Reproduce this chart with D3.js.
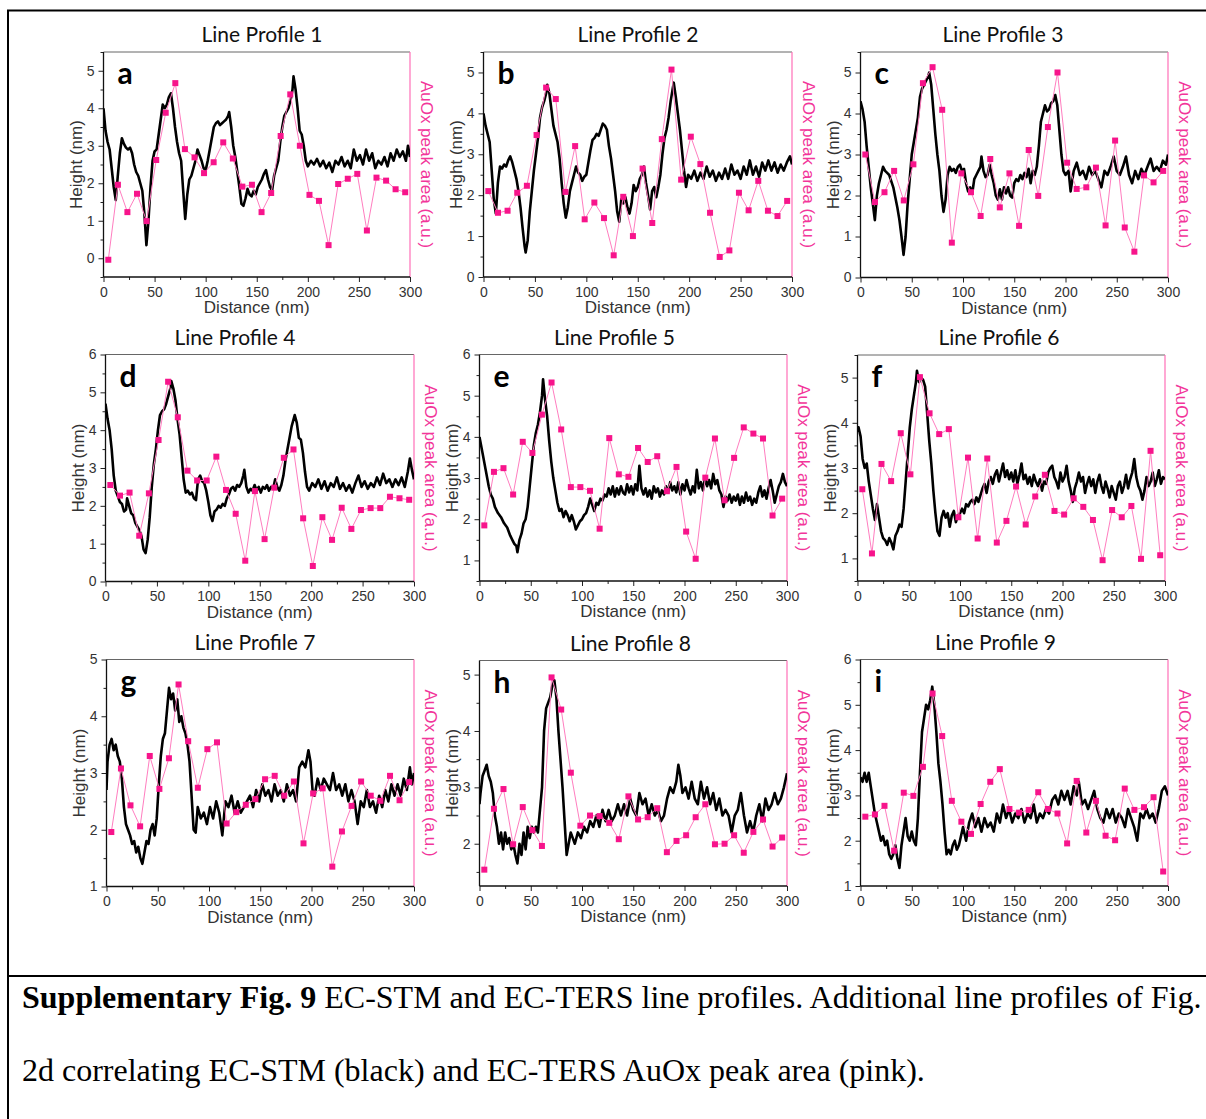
<!DOCTYPE html>
<html>
<head>
<meta charset="utf-8">
<script src="https://cdn.jsdelivr.net/npm/d3@7"></script>
<style>
	body { margin: 0; background: #fff; }
	svg { display: block; }
</style>
</head>
<body>
<div id="fig"></div>
<script>
// ---------- data ----------

var titles = [ "Line Profile 1", "Line Profile 2", "Line Profile 3", "Line Profile 4", "Line Profile 5",
	"Line Profile 6", "Line Profile 7", "Line Profile 8", "Line Profile 9" ];
var letters = [ "a", "b", "c", "d", "e", "f", "g", "h", "i" ];

var distanceTicks = [ 0, 50, 100, 150, 200, 250, 300 ];
var heightTicks = [
	[ 0, 1, 2, 3, 4, 5 ], [ 0, 1, 2, 3, 4, 5 ], [ 0, 1, 2, 3, 4, 5 ],
	[ 0, 1, 2, 3, 4, 5, 6 ], [ 1, 2, 3, 4, 5, 6 ], [ 1, 2, 3, 4, 5 ],
	[ 1, 2, 3, 4, 5 ], [ 2, 3, 4, 5 ], [ 1, 2, 3, 4, 5, 6 ]
];
var heightRanges = [ [ -0.5, 5.5 ], [ 0, 5.5 ], [ 0, 5.5 ], [ 0, 6 ], [ 0.5, 6 ], [ 0.5, 5.5 ], [ 1, 5 ], [ 1.25, 5.25 ], [ 1, 6 ] ];

// positions (nm) of the 32 TERS spectra along each line
var tersX = [ 4.7, 14.1, 23.4, 32.8, 42.2, 51.6, 60.9, 70.3, 79.7, 89.1, 98.4, 107.8, 117.2, 126.6, 135.9, 145.3,
	154.7, 164.1, 173.4, 182.8, 192.2, 201.6, 210.9, 220.3, 229.7, 239.1, 248.4, 257.8, 267.2, 276.6, 285.9, 295.3 ];

// AuOx peak area (pink), one array per line profile
var auox1 = [ -0.04, 1.96, 1.23, 1.72, 0.99, 2.62, 3.88, 4.67, 2.91, 2.69, 2.27, 2.56, 3.09, 2.66, 1.91, 1.96,
	1.23, 1.74, 3.26, 4.37, 3.0, 1.69, 1.53, 0.35, 1.98, 2.12, 2.25, 0.74, 2.15, 2.07, 1.84, 1.76 ];
var auox2 = [ 2.1, 1.57, 1.62, 2.06, 2.23, 3.47, 4.63, 4.35, 2.08, 3.2, 1.41, 1.82, 1.44, 0.53, 1.96, 1.0,
	2.65, 1.32, 3.37, 5.07, 2.38, 3.43, 2.76, 1.57, 0.49, 0.65, 2.06, 1.63, 2.35, 1.62, 1.49, 1.86 ];
var auox3 = [ 3.0, 1.84, 2.08, 2.6, 1.88, 2.76, 4.74, 5.13, 4.09, 0.85, 2.54, 2.08, 1.5, 2.89, 1.71, 2.54,
	1.26, 3.11, 1.99, 3.67, 5.0, 2.8, 2.16, 2.2, 2.68, 1.27, 3.34, 1.22, 0.63, 2.49, 2.32, 2.6 ];
var auox4 = [ 2.55, 2.27, 2.35, 1.21, 2.33, 3.74, 5.28, 4.34, 2.93, 2.67, 2.67, 3.3, 2.42, 1.79, 0.55, 2.39,
	1.12, 2.48, 3.27, 3.49, 1.67, 0.41, 1.7, 1.1, 1.95, 1.39, 1.89, 1.94, 1.94, 2.24, 2.2, 2.16 ];
var auox5 = [ 1.85, 3.15, 3.24, 2.6, 3.88, 3.61, 4.54, 5.32, 4.18, 2.78, 2.78, 2.69, 1.77, 3.97, 3.09, 3.03,
	3.73, 3.39, 3.53, 2.68, 3.27, 1.7, 1.04, 3.01, 3.96, 2.46, 3.49, 4.23, 4.08, 3.96, 2.09, 2.5 ];
var auox6 = [ 2.53, 1.11, 3.09, 2.71, 3.77, 2.86, 5.01, 4.21, 3.75, 3.86, 1.91, 3.23, 1.44, 3.21, 1.35, 1.83,
	2.59, 1.75, 2.37, 2.85, 2.05, 1.97, 2.33, 2.14, 1.85, 0.96, 2.07, 1.91, 2.16, 0.99, 3.38, 1.07 ];
var auox7 = [ 1.96, 3.08, 2.43, 2.06, 3.3, 2.72, 3.26, 4.56, 3.56, 2.74, 3.42, 3.54, 2.11, 2.31, 2.44, 2.54,
	2.89, 2.95, 2.6, 2.85, 1.76, 2.64, 2.73, 1.35, 1.97, 2.42, 2.85, 2.6, 2.51, 2.95, 2.52, 2.84 ];
var auox8 = [ 1.54, 2.62, 2.97, 1.99, 2.65, 2.24, 1.96, 4.95, 4.38, 3.26, 2.32, 2.5, 2.49, 2.37, 2.08, 2.84,
	2.43, 2.47, 2.63, 1.85, 2.05, 2.15, 2.47, 2.7, 1.99, 2.0, 2.15, 1.84, 2.21, 2.43, 1.95, 2.11 ];
var auox9 = [ 2.53, 2.58, 2.77, 1.78, 3.06, 2.99, 3.63, 5.25, 4.31, 2.88, 2.42, 2.15, 2.81, 3.3, 3.58, 2.7,
	2.62, 2.68, 3.07, 2.7, 2.6, 1.94, 3.32, 2.18, 2.88, 2.11, 2.01, 3.15, 2.68, 2.74, 2.96, 1.32 ];

// EC-STM height (black), [distance nm, height nm]
var stm1 = [ [0,4.0],[2,3.4],[4,3.1],[6,2.9],[8,2.4],[10,1.9],[12,1.55],[14,2.2],[16,2.8],[18,3.2],[20,3.05],[22,2.95],[24,2.9],[26,2.95],[28,2.8],[30,2.5],[32,2.3],[34,2.2],[36,2.0],[38,1.8],[40,1.2],[42,0.35],[44,1.0],[46,1.9],[48,2.6],[50,2.85],[52,2.9],[54,3.3],[56,3.7],[58,4.1],[60,4.0],[62,4.1],[64,4.3],[66,4.4],[68,4.0],[70,3.5],[72,3.1],[74,2.8],[76,2.6],[78,1.8],[80,1.05],[82,1.7],[84,2.1],[86,2.2],[88,2.4],[90,2.6],[92,2.9],[94,2.75],[96,2.6],[98,2.4],[100,2.35],[102,2.6],[104,2.9],[106,3.2],[108,3.5],[110,3.6],[112,3.65],[114,3.55],[116,3.6],[118,3.65],[120,3.7],[122,3.8],[123,3.9],[125,3.5],[127,3.0],[129,2.7],[131,2.3],[133,1.9],[135,1.45],[137,1.4],[139,1.6],[141,1.85],[143,1.7],[145,1.65],[147,1.8],[149,1.7],[151,1.9],[153,2.0],[155,2.1],[157,2.25],[159,2.35],[161,2.1],[163,1.9],[165,1.8],[167,2.2],[169,2.4],[171,2.6],[173,3.1],[175,3.5],[177,3.8],[179,3.9],[181,4.0],[183,4.2],[185,4.5],[186,4.85],[188,4.5],[190,4.0],[192,3.4],[194,3.3],[196,3.0],[198,2.6],[200,2.45],[203,2.6],[206,2.5],[209,2.65],[212,2.45],[215,2.6],[218,2.4],[221,2.55],[224,2.3],[227,2.6],[230,2.5],[233,2.7],[236,2.45],[239,2.6],[242,2.4],[245,2.9],[248,2.6],[251,2.75],[254,2.5],[257,2.9],[260,2.6],[263,2.8],[266,2.4],[269,2.6],[272,2.5],[275,2.7],[278,2.45],[281,2.8],[284,2.6],[287,2.9],[290,2.7],[293,2.85],[296,2.6],[298,3.0],[300,2.7] ];
var stm2 = [ [0,4.0],[2,3.7],[4,3.5],[6,3.3],[8,2.6],[10,1.9],[12,1.55],[14,2.3],[16,2.7],[18,2.65],[20,2.75],[22,2.7],[24,2.85],[26,2.95],[28,2.8],[30,2.6],[32,2.4],[34,2.1],[36,1.7],[38,1.2],[40,0.75],[41,0.6],[43,0.9],[45,1.6],[47,2.1],[49,2.6],[51,3.0],[53,3.4],[55,3.9],[57,4.15],[59,4.3],[61,4.5],[62,4.7],[64,4.5],[66,4.1],[68,3.7],[70,3.5],[72,3.3],[74,2.9],[76,2.3],[78,1.8],[80,1.45],[82,1.7],[84,2.1],[86,2.3],[88,2.5],[90,2.7],[92,2.55],[94,2.5],[96,2.35],[98,2.45],[100,2.5],[102,2.8],[104,3.1],[106,3.35],[108,3.4],[110,3.5],[112,3.45],[114,3.6],[116,3.75],[118,3.7],[120,3.6],[122,3.2],[124,2.9],[126,2.5],[128,2.1],[130,1.6],[132,1.35],[134,1.9],[136,1.8],[138,1.95],[140,1.7],[142,1.55],[144,1.8],[146,2.25],[148,2.1],[150,2.2],[152,2.4],[154,2.5],[156,2.7],[158,2.3],[160,2.0],[162,1.65],[164,2.1],[166,2.2],[168,1.95],[170,2.2],[172,2.5],[174,3.0],[176,3.4],[178,3.6],[180,3.9],[182,4.3],[184,4.6],[185,4.75],[187,4.4],[189,4.0],[191,3.6],[193,3.1],[195,2.6],[197,2.2],[199,2.5],[202,2.4],[205,2.6],[208,2.35],[211,2.55],[214,2.4],[217,2.7],[220,2.45],[223,2.6],[226,2.35],[229,2.55],[232,2.4],[235,2.65],[238,2.4],[241,2.75],[244,2.5],[247,2.6],[250,2.4],[253,2.7],[256,2.5],[259,2.85],[262,2.5],[265,2.7],[268,2.45],[271,2.8],[274,2.6],[277,2.85],[280,2.6],[283,2.8],[286,2.55],[289,2.75],[292,2.6],[295,2.8],[298,2.95],[300,2.75] ];
var stm3 = [ [0,4.3],[2,4.1],[4,3.8],[6,3.2],[8,2.7],[10,2.2],[12,1.8],[14,1.4],[16,2.0],[18,2.3],[20,2.5],[22,2.7],[24,2.6],[26,2.55],[28,2.5],[30,2.35],[32,2.2],[34,1.95],[36,1.7],[38,1.4],[40,1.0],[42,0.55],[44,1.0],[46,1.8],[48,2.4],[50,3.0],[52,3.3],[54,3.6],[56,3.9],[58,4.4],[60,4.6],[62,4.7],[64,4.8],[66,4.9],[67,5.0],[69,4.7],[71,4.1],[73,3.5],[75,3.0],[77,2.6],[79,2.0],[81,1.6],[83,1.9],[85,2.5],[87,2.7],[89,2.6],[91,2.65],[93,2.55],[95,2.7],[97,2.75],[99,2.6],[101,2.65],[103,2.3],[105,2.1],[107,2.2],[109,2.05],[111,2.4],[113,2.5],[115,2.6],[117,2.7],[118,2.95],[120,2.6],[122,2.45],[124,2.5],[126,2.75],[128,2.5],[130,2.3],[132,2.0],[134,1.9],[136,2.15],[138,1.9],[140,2.2],[142,2.05],[144,2.2],[146,2.0],[148,1.95],[150,2.3],[152,2.4],[154,2.35],[156,2.5],[158,2.4],[160,2.55],[162,2.45],[164,2.65],[166,2.3],[168,2.6],[170,2.5],[172,2.7],[174,3.2],[176,3.8],[178,4.0],[180,4.2],[182,4.05],[184,4.1],[186,4.25],[188,4.3],[190,4.45],[192,4.2],[194,3.6],[196,3.0],[198,2.6],[200,2.5],[203,2.6],[205,2.1],[208,2.6],[211,2.8],[214,2.5],[217,2.6],[220,2.4],[223,2.7],[226,2.5],[229,2.6],[232,2.4],[235,2.2],[238,2.6],[241,2.5],[244,2.7],[247,2.95],[250,2.6],[253,2.5],[256,2.7],[259,2.95],[262,2.5],[265,2.3],[268,2.6],[271,2.4],[274,2.65],[277,2.5],[280,2.7],[283,2.9],[286,2.6],[289,2.7],[292,2.6],[295,2.85],[298,2.75],[300,3.0] ];
var stm4 = [ [0,4.7],[2,4.3],[4,4.0],[6,3.5],[8,2.8],[10,2.4],[12,2.25],[14,2.1],[16,2.05],[18,1.85],[20,1.9],[21,2.2],[23,2.0],[25,1.8],[27,1.75],[29,1.55],[31,1.45],[33,1.35],[35,1.2],[37,0.85],[39,0.75],[41,1.1],[43,1.7],[45,2.5],[47,3.1],[49,3.5],[51,4.0],[53,4.4],[55,4.5],[57,4.55],[59,4.7],[61,4.9],[63,5.1],[64,5.3],[66,5.1],[68,4.8],[70,4.3],[72,3.9],[74,3.3],[76,2.7],[78,2.35],[80,2.4],[82,2.3],[84,2.35],[86,2.2],[88,2.15],[90,2.7],[92,2.8],[94,2.65],[96,2.6],[98,2.4],[100,2.1],[102,1.75],[104,1.6],[106,1.85],[108,1.9],[110,2.0],[112,1.95],[114,2.05],[116,2.0],[118,2.2],[120,2.3],[122,2.45],[124,2.5],[126,2.4],[128,2.55],[130,2.5],[132,2.6],[134,2.8],[135,2.95],[137,2.5],[139,2.35],[141,2.45],[143,2.4],[145,2.55],[147,2.4],[149,2.5],[151,2.35],[153,2.5],[155,2.45],[157,2.55],[159,2.4],[161,2.5],[163,2.45],[165,2.7],[167,2.5],[169,2.4],[171,2.55],[173,2.8],[175,3.2],[177,3.5],[179,3.8],[181,4.1],[183,4.3],[184,4.4],[186,4.2],[188,3.8],[190,3.75],[192,3.4],[194,2.9],[196,2.5],[198,2.4],[201,2.6],[204,2.5],[207,2.7],[210,2.45],[213,2.65],[216,2.4],[219,2.6],[222,2.5],[225,2.75],[228,2.45],[231,2.6],[234,2.4],[237,2.55],[240,2.35],[243,2.6],[246,2.8],[249,2.5],[252,2.65],[255,2.45],[258,2.6],[261,2.5],[264,2.75],[267,2.55],[270,2.85],[273,2.6],[276,2.7],[279,2.5],[282,2.7],[285,2.55],[288,2.75],[291,2.5],[294,2.9],[296,3.25],[298,2.95],[300,2.7] ];
var stm5 = [ [0,4.0],[3,3.6],[6,3.2],[9,2.8],[11,2.6],[13,2.5],[15,2.3],[18,2.15],[21,2.05],[24,1.9],[27,1.8],[30,1.6],[32,1.5],[34,1.4],[36,1.35],[37,1.2],[39,1.5],[41,1.65],[43,1.9],[45,2.0],[47,2.3],[49,2.8],[51,3.3],[53,3.8],[55,4.1],[57,4.3],[59,4.6],[61,5.0],[62,5.4],[64,4.9],[66,4.5],[68,3.9],[70,3.4],[72,3.0],[74,2.7],[76,2.4],[78,2.2],[80,2.25],[82,2.05],[84,2.2],[86,2.1],[88,1.95],[90,2.1],[92,1.95],[94,1.75],[96,1.85],[98,1.95],[100,2.0],[102,2.1],[104,2.15],[106,2.3],[108,2.5],[110,2.35],[112,2.2],[114,2.4],[116,2.35],[118,2.5],[120,2.45],[122,2.6],[124,2.55],[126,2.75],[128,2.6],[130,2.8],[132,2.55],[134,2.75],[136,2.6],[138,2.8],[140,2.65],[142,2.6],[144,2.85],[146,2.65],[148,2.8],[150,2.6],[152,2.85],[154,2.7],[156,3.3],[158,2.75],[160,2.6],[162,2.75],[164,2.55],[166,2.7],[168,2.5],[170,2.8],[172,2.65],[174,2.75],[176,2.55],[178,2.7],[180,2.6],[182,2.8],[184,2.65],[186,2.9],[188,2.7],[190,2.8],[192,2.65],[194,2.9],[196,2.6],[198,2.85],[200,2.7],[202,2.95],[204,2.75],[206,2.6],[208,2.8],[210,2.65],[212,3.2],[214,2.75],[216,2.9],[218,2.7],[220,3.0],[222,2.8],[224,2.95],[226,2.75],[228,3.1],[230,2.85],[232,2.95],[234,2.7],[236,2.6],[238,2.3],[240,2.55],[242,2.45],[244,2.6],[246,2.4],[248,2.55],[250,2.45],[252,2.6],[254,2.35],[256,2.55],[258,2.4],[260,2.65],[262,2.45],[264,2.55],[266,2.35],[268,2.5],[270,2.4],[272,2.65],[274,2.8],[276,2.55],[278,2.7],[280,2.5],[282,2.75],[284,2.95],[286,2.7],[288,2.4],[290,2.6],[292,2.8],[294,2.9],[296,3.1],[298,2.9],[300,2.8] ];
var stm6 = [ [0,3.8],[1,3.9],[3,3.7],[5,3.2],[7,3.0],[9,3.1],[11,2.7],[13,2.4],[15,2.1],[17,1.85],[19,2.2],[21,1.9],[23,1.6],[25,1.45],[27,1.4],[29,1.3],[31,1.45],[33,1.35],[35,1.2],[37,1.5],[39,1.6],[41,1.75],[43,1.7],[45,2.1],[47,2.7],[49,3.3],[51,3.9],[53,4.3],[55,4.6],[57,4.9],[58,5.15],[60,4.9],[62,5.0],[64,4.95],[66,4.8],[68,4.2],[70,3.6],[72,3.1],[74,2.5],[76,2.0],[78,1.6],[80,1.5],[82,1.9],[84,2.05],[86,1.9],[88,2.0],[90,1.7],[92,1.95],[94,2.05],[96,1.8],[98,1.95],[100,2.0],[102,2.1],[104,2.0],[106,2.2],[108,2.15],[110,2.25],[112,2.3],[114,2.2],[116,2.35],[118,2.25],[120,2.4],[122,2.55],[124,2.65],[126,2.45],[128,2.7],[130,2.8],[132,2.65],[134,2.85],[136,2.95],[138,2.7],[140,2.9],[142,3.1],[144,2.8],[146,2.95],[148,2.75],[150,2.9],[152,2.7],[154,2.95],[156,2.65],[158,2.85],[160,3.1],[162,2.75],[164,2.85],[166,2.65],[168,2.8],[170,2.6],[172,2.85],[174,2.7],[176,2.6],[178,2.75],[180,2.5],[182,2.7],[184,2.65],[186,2.9],[188,3.0],[190,3.05],[192,2.8],[194,2.7],[196,2.55],[198,2.9],[200,2.7],[202,2.8],[204,3.05],[206,2.7],[208,2.5],[210,2.25],[212,2.55],[214,2.7],[216,2.9],[218,2.7],[220,2.8],[222,2.45],[224,2.65],[226,2.8],[228,2.6],[230,2.75],[232,2.45],[234,2.7],[236,2.85],[238,2.6],[240,2.45],[242,2.7],[244,2.55],[246,2.35],[248,2.6],[250,2.45],[252,2.3],[254,2.6],[256,2.7],[258,2.45],[260,2.6],[262,2.85],[264,2.55],[266,2.75],[268,2.9],[270,3.2],[272,2.8],[274,2.6],[276,2.5],[278,2.3],[280,2.5],[282,2.8],[284,2.6],[286,2.7],[288,2.9],[290,2.6],[292,2.75],[294,2.95],[296,2.65],[298,2.8],[300,2.75] ];
var stm7 = [ [0,2.7],[1,3.2],[3,3.5],[5,3.6],[7,3.4],[9,3.5],[11,3.3],[13,3.2],[15,2.9],[17,2.4],[19,2.1],[21,2.0],[23,1.9],[25,1.75],[27,1.8],[29,1.6],[31,1.7],[33,1.5],[35,1.4],[37,1.6],[39,1.8],[41,1.75],[43,2.0],[45,2.1],[47,1.9],[49,2.2],[51,2.8],[53,3.3],[55,3.6],[57,3.7],[59,4.1],[61,4.5],[63,4.3],[65,4.4],[67,4.1],[69,4.3],[71,3.9],[73,4.0],[75,3.8],[77,3.7],[79,3.5],[81,3.2],[83,2.6],[85,2.0],[87,1.95],[89,2.4],[92,2.2],[95,2.3],[98,2.1],[101,2.4],[104,2.2],[107,2.5],[110,2.3],[113,1.9],[116,2.5],[119,2.4],[122,2.6],[125,2.3],[128,2.5],[131,2.3],[134,2.4],[137,2.5],[140,2.6],[143,2.4],[146,2.7],[149,2.5],[152,2.8],[155,2.6],[158,2.7],[161,2.5],[164,2.8],[167,2.6],[170,2.7],[173,2.5],[176,2.8],[179,2.6],[182,2.7],[185,2.5],[188,3.1],[191,3.2],[194,3.1],[197,3.4],[199,3.2],[201,2.7],[203,2.6],[206,2.9],[209,2.7],[212,2.9],[215,2.8],[218,2.7],[221,3.0],[224,2.7],[227,2.8],[230,2.6],[233,2.8],[236,2.5],[239,2.7],[242,2.5],[245,2.1],[248,2.5],[251,2.4],[254,2.7],[257,2.4],[260,2.5],[263,2.3],[266,2.6],[269,2.4],[272,2.7],[275,2.5],[278,2.8],[281,2.6],[284,2.8],[287,2.6],[290,2.9],[293,2.7],[296,3.1],[298,2.8],[300,3.0] ];
var stm8 = [ [0,2.7],[1,2.9],[3,3.2],[5,3.3],[7,3.4],[9,3.2],[11,3.1],[13,2.9],[15,2.5],[17,2.3],[19,2.0],[21,2.2],[23,1.9],[25,2.2],[27,2.0],[29,2.1],[31,1.9],[33,2.0],[35,1.8],[37,1.65],[39,2.0],[41,1.8],[43,2.2],[45,1.9],[47,2.3],[49,2.1],[51,2.3],[53,2.2],[55,2.3],[57,2.2],[59,2.6],[61,3.0],[63,4.0],[65,4.4],[67,4.5],[69,4.6],[71,4.8],[73,4.9],[75,4.6],[77,4.0],[79,3.5],[81,3.0],[83,2.4],[85,1.8],[87,2.0],[89,2.2],[91,2.1],[93,2.0],[96,2.2],[99,2.1],[102,2.3],[105,2.2],[108,2.4],[111,2.3],[114,2.5],[117,2.3],[120,2.6],[123,2.4],[126,2.6],[129,2.4],[132,2.5],[135,2.7],[138,2.5],[141,2.7],[144,2.5],[147,2.8],[150,2.6],[153,2.5],[156,2.9],[159,2.7],[162,2.8],[165,2.5],[168,2.7],[171,2.5],[174,2.6],[177,2.4],[180,2.5],[183,2.8],[186,3.0],[189,2.9],[192,3.1],[194,3.4],[196,3.2],[198,2.9],[201,3.0],[204,2.8],[207,3.1],[210,2.8],[213,2.7],[216,3.1],[219,2.8],[222,3.0],[225,2.7],[228,2.9],[231,2.6],[234,2.8],[237,2.5],[240,2.6],[243,2.5],[246,2.2],[249,2.5],[252,2.6],[255,2.9],[258,2.5],[261,2.2],[264,2.4],[267,2.2],[270,2.5],[273,2.7],[276,2.4],[279,2.8],[282,2.6],[285,2.7],[288,2.9],[291,2.7],[294,2.8],[297,3.0],[300,3.25] ];
var stm9 = [ [0,3.4],[2,3.3],[4,3.5],[6,3.3],[8,3.5],[10,3.2],[12,2.9],[14,2.6],[16,2.4],[18,2.2],[20,2.0],[22,2.1],[24,1.9],[26,2.0],[28,1.7],[30,1.6],[32,1.7],[34,1.9],[36,1.6],[38,1.4],[40,1.9],[42,2.2],[44,2.5],[46,2.1],[48,2.0],[50,2.2],[52,2.0],[54,1.9],[56,2.5],[58,3.5],[60,4.4],[62,4.7],[64,5.0],[66,4.9],[68,5.1],[70,5.4],[72,5.0],[74,4.4],[76,3.7],[78,3.3],[80,2.8],[82,2.2],[84,1.7],[86,1.8],[88,1.7],[90,1.9],[92,2.0],[94,1.8],[96,1.9],[98,2.1],[100,2.3],[103,2.0],[106,2.4],[109,2.6],[112,2.3],[115,2.5],[118,2.2],[121,2.5],[124,2.3],[127,2.4],[130,2.2],[133,2.6],[136,2.4],[139,2.8],[142,2.5],[145,2.7],[148,2.4],[151,2.6],[154,2.5],[157,2.7],[160,2.4],[163,2.6],[166,2.5],[169,2.8],[172,2.4],[175,2.6],[178,2.5],[181,2.7],[184,2.6],[187,2.9],[190,3.0],[193,2.8],[196,3.1],[199,2.9],[202,3.1],[205,2.8],[208,3.2],[211,3.0],[213,3.3],[216,2.8],[219,2.9],[222,2.7],[225,2.9],[228,3.1],[231,2.7],[234,2.5],[237,2.4],[240,2.7],[243,2.5],[246,2.7],[249,2.4],[252,2.6],[255,2.5],[258,2.3],[261,2.7],[264,2.5],[267,2.3],[270,2.0],[273,2.6],[276,2.5],[279,2.7],[282,2.5],[285,2.6],[288,2.4],[291,2.7],[294,3.1],[297,3.2],[300,3.0] ];

var stmSeries = [ stm1, stm2, stm3, stm4, stm5, stm6, stm7, stm8, stm9 ];
var auoxSeries = [ auox1, auox2, auox3, auox4, auox5, auox6, auox7, auox8, auox9 ];

// ---------- layout ----------
var width = 1206,
	height = 1119;

// plot boxes (left, right, top, bottom of axes frame) and title centre
var panelBox = [
	{ left: 103.5, right: 410, top: 52, bottom: 277, titleX: 262 },
	{ left: 483.5, right: 792, top: 52, bottom: 277, titleX: 638 },
	{ left: 860.5, right: 1168, top: 52, bottom: 277.5, titleX: 1003 },
	{ left: 105.5, right: 414, top: 354.5, bottom: 581.5, titleX: 235 },
	{ left: 479.5, right: 787, top: 354.5, bottom: 581, titleX: 614.5 },
	{ left: 857.5, right: 1165, top: 355, bottom: 581, titleX: 999 },
	{ left: 106.5, right: 414, top: 659.5, bottom: 886.5, titleX: 255 },
	{ left: 479.5, right: 787, top: 660.5, bottom: 886, titleX: 630.5 },
	{ left: 860.5, right: 1168, top: 659.5, bottom: 886, titleX: 995.5 }
];

var pinkMarker = "#f7148b",
	pinkLine = "#ff7dbf",
	pinkAxis = "#ff6fb7",
	pinkText = "#f2359a",
	tickFont = "'Liberation Sans', Arial, sans-serif",
	titleFont = "Lato, 'Open Sans', sans-serif";

var svg = d3.select( "#fig" )
	.append( "svg" )
	.attr( "width", width )
	.attr( "height", height );

// page frame of the figure cell
svg.append( "path" )
	.attr( "d", "M8,1119 V10.5 H1206" )
	.attr( "fill", "none" )
	.attr( "stroke", "#000" )
	.attr( "stroke-width", 2 );
svg.append( "line" )
	.attr( "x1", 8 ).attr( "x2", 1206 )
	.attr( "y1", 976 ).attr( "y2", 976 )
	.attr( "stroke", "#000" )
	.attr( "stroke-width", 2 );

function drawPanel ( i ) {
	var box = panelBox[ i ];
	var yr = heightRanges[ i ];

	var x = d3.scaleLinear()
		.domain( [ 0, 300 ] )
		.range( [ box.left, box.right ] );
	var y = d3.scaleLinear()
		.domain( yr )
		.range( [ box.bottom, box.top ] );

	var g = svg.append( "g" ).attr( "class", "panel" + i );

	// minor ticks every 25 nm and every 0.5 nm
	var xMinor = distanceTicks.slice( 1 ).map( function( d ) { return d - 25; } );
	var yMinor = d3.range( Math.ceil( yr[ 0 ] * 2 ) / 2, yr[ 1 ] + 1e-6, 0.5 )
		.filter( function( d ) { return Math.abs( d % 1 ) > 0.01; } );

	g.append( "g" )
		.attr( "transform", "translate(0," + box.bottom + ")" )
		.call( d3.axisBottom( x ).tickValues( xMinor ).tickSize( 3 ).tickFormat( "" ) );
	g.append( "g" )
		.attr( "transform", "translate(" + box.left + ",0)" )
		.call( d3.axisLeft( y ).tickValues( yMinor ).tickSize( 3 ).tickFormat( "" ) );

	g.append( "g" )
		.attr( "transform", "translate(0," + box.bottom + ")" )
		.call( d3.axisBottom( x ).tickValues( distanceTicks ).tickSize( 5 ).tickPadding( 5 )
			.tickFormat( d3.format( "d" ) ) );
	g.append( "g" )
		.attr( "transform", "translate(" + box.left + ",0)" )
		.call( d3.axisLeft( y ).tickValues( heightTicks[ i ] ).tickSize( 5 ).tickPadding( 4 )
			.tickFormat( d3.format( "d" ) ) );

	g.selectAll( ".domain" ).remove();
	g.selectAll( ".tick line" ).attr( "stroke", "#222" ).attr( "stroke-width", 1 );
	g.selectAll( ".tick text" )
		.attr( "font-family", tickFont )
		.attr( "font-size", 14 )
		.attr( "fill", "#333" );

	// frame: black left/bottom, thin top, pink right axis
	g.append( "line" )
		.attr( "x1", box.left ).attr( "x2", box.right )
		.attr( "y1", box.top ).attr( "y2", box.top )
		.attr( "stroke", "#666" ).attr( "stroke-width", 1 );
	g.append( "line" )
		.attr( "x1", box.right ).attr( "x2", box.right )
		.attr( "y1", box.top ).attr( "y2", box.bottom )
		.attr( "stroke", pinkAxis ).attr( "stroke-width", 1.2 );
	g.append( "line" )
		.attr( "x1", box.left ).attr( "x2", box.left )
		.attr( "y1", box.top ).attr( "y2", box.bottom )
		.attr( "stroke", "#111" ).attr( "stroke-width", 1.3 );
	g.append( "line" )
		.attr( "x1", box.left ).attr( "x2", box.right )
		.attr( "y1", box.bottom ).attr( "y2", box.bottom )
		.attr( "stroke", "#111" ).attr( "stroke-width", 1.3 );

	// clip for the traces
	svg.append( "clipPath" )
		.attr( "id", "clip" + i )
		.append( "rect" )
		.attr( "x", box.left )
		.attr( "y", box.top )
		.attr( "width", box.right - box.left )
		.attr( "height", box.bottom - box.top );

	var plot = g.append( "g" ).attr( "clip-path", "url(#clip" + i + ")" );

	// EC-STM height profile
	var valueLine = d3.line()
		.x( function( d ) { return x( d[ 0 ] ); } )
		.y( function( d ) { return y( d[ 1 ] ); } );
	plot.append( "path" )
		.datum( stmSeries[ i ] )
		.attr( "d", valueLine )
		.attr( "fill", "none" )
		.attr( "stroke", "#000" )
		.attr( "stroke-width", 2.6 )
		.attr( "stroke-linejoin", "round" );

	// EC-TERS AuOx peak area
	var tersData = tersX.map( function( d, k ) { return [ d, auoxSeries[ i ][ k ] ]; } );
	plot.append( "path" )
		.datum( tersData )
		.attr( "d", valueLine )
		.attr( "fill", "none" )
		.attr( "stroke", pinkLine )
		.attr( "stroke-width", 1 );
	plot.selectAll( ".marker" )
		.data( tersData )
		.enter()
		.append( "rect" )
		.attr( "class", "marker" )
		.attr( "x", function( d ) { return x( d[ 0 ] ) - 3; } )
		.attr( "y", function( d ) { return y( d[ 1 ] ) - 3; } )
		.attr( "width", 6 )
		.attr( "height", 6 )
		.attr( "fill", pinkMarker );

	// texts
	g.append( "text" )
		.attr( "x", box.titleX )
		.attr( "y", box.top - 10 )
		.attr( "text-anchor", "middle" )
		.attr( "font-family", titleFont )
		.attr( "font-size", 21 )
		.attr( "fill", "#111" )
		.text( titles[ i ] );

	g.append( "text" )
		.attr( "x", box.left + 14 )
		.attr( "y", box.top + 32 )
		.attr( "font-family", titleFont )
		.attr( "font-weight", "bold" )
		.attr( "font-size", 30 )
		.attr( "fill", "#000" )
		.text( letters[ i ] );

	var midX = ( box.left + box.right ) / 2,
		midY = ( box.top + box.bottom ) / 2;

	g.append( "text" )
		.attr( "x", midX )
		.attr( "y", box.bottom + 36 )
		.attr( "text-anchor", "middle" )
		.attr( "font-family", tickFont )
		.attr( "font-size", 17 )
		.attr( "fill", "#333" )
		.text( "Distance (nm)" );

	g.append( "text" )
		.attr( "transform", "translate(" + ( box.left - 22 ) + "," + midY + ") rotate(-90)" )
		.attr( "text-anchor", "middle" )
		.attr( "font-family", tickFont )
		.attr( "font-size", 17 )
		.attr( "fill", "#333" )
		.text( "Height (nm)" );

	g.append( "text" )
		.attr( "transform", "translate(" + ( box.right + 11 ) + "," + midY + ") rotate(90)" )
		.attr( "text-anchor", "middle" )
		.attr( "font-family", tickFont )
		.attr( "font-size", 17 )
		.attr( "fill", pinkText )
		.text( "AuOx peak area (a.u.)" );
}

for ( var i = 0; i < 9; i++ ) drawPanel( i );

// caption
var caption = svg.append( "g" )
	.attr( "font-family", "'Liberation Serif', 'Times New Roman', serif" )
	.attr( "font-size", 32 )
	.attr( "fill", "#000" );
var line1 = caption.append( "text" ).attr( "x", 22 ).attr( "y", 1008 );
line1.append( "tspan" ).attr( "font-weight", "bold" ).text( "Supplementary Fig. 9" );
line1.append( "tspan" ).text( " EC-STM and EC-TERS line profiles. Additional line profiles of Fig." );
caption.append( "text" )
	.attr( "x", 22 )
	.attr( "y", 1081 )
	.text( "2d correlating EC-STM (black) and EC-TERS AuOx peak area (pink)." );
</script>
</body>
</html>
